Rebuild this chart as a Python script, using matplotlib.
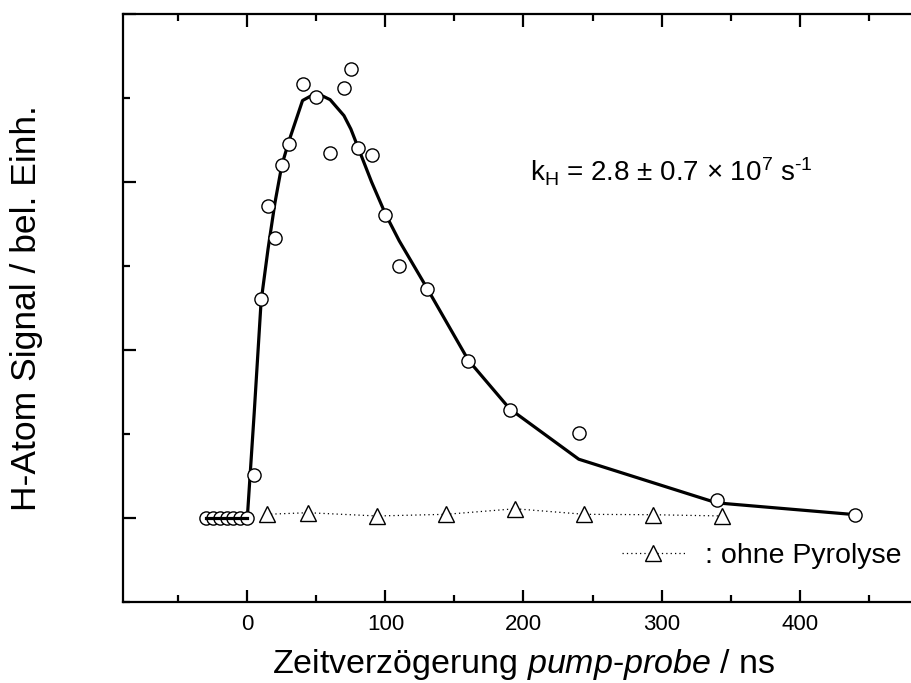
import numpy as np
import matplotlib
matplotlib.use("Agg")
import matplotlib.pyplot as plt
from matplotlib.ticker import MultipleLocator, NullFormatter

plt.rcParams['font.family'] = ['Liberation Sans', 'DejaVu Sans']
plt.rcParams['mathtext.fontset'] = 'custom'
plt.rcParams['mathtext.rm'] = 'Liberation Sans'
plt.rcParams['mathtext.it'] = 'Liberation Sans:italic'

# delay times (ns) and H-atom signal (arb. units)
delay = [-30, -25, -20, -15, -10, -5, 0, 5, 10, 15, 20, 25, 30, 40, 50, 60, 70, 75,
         80, 90, 100, 110, 130, 160, 190, 240, 340, 440]
signal = [0, 0, 0, 0, 0, 0, 0, 0.51, 2.61, 3.71, 3.33, 4.2, 4.45, 5.17, 5.01, 4.35,
          5.12, 5.35, 4.40, 4.32, 3.61, 3.0, 2.73, 1.87, 1.29, 1.01, 0.21, 0.04]
# fit curve, read at the same delays
fit = [0, 0, 0, 0, 0, 0, 0, 1.25, 2.58, 3.2, 3.75, 4.2, 4.48, 4.97, 5.06, 4.98,
       4.79, 4.63, 4.42, 4.0, 3.62, 3.3, 2.74, 1.88, 1.3, 0.70, 0.18, 0.04]

# without pyrolysis
ref_delay = [14, 44, 94, 144, 194, 244, 294, 344]
ref_signal = [0.044, 0.063, 0.024, 0.044, 0.11, 0.044, 0.039, 0.024]

fig = plt.figure(figsize=(9.12, 6.83), dpi=100)
ax = fig.add_axes([123 / 912, 81 / 683, 801 / 912, 588 / 683])

ax.plot(delay, fit, color='black', lw=2.3, zorder=2)
ax.plot(delay, signal, 'o', ms=9.5, mfc='white', mec='black', mew=1.0, zorder=3)
# flat part of the fit is drawn over the baseline points
pre = [i for i, t in enumerate(delay) if t <= 0]
ax.plot([delay[i] for i in pre], [fit[i] for i in pre], color='black', lw=2.3, zorder=4)

ax.plot(ref_delay, ref_signal, linestyle=(0, (1, 2.5)), color='black', lw=0.9,
        marker='^', ms=11, mfc='white', mec='black', mew=1.0, zorder=3,
        label=': ohne Pyrolyse')

ax.set_xlim(-90, 490)
ax.set_ylim(-1, 6)

ax.xaxis.set_major_locator(MultipleLocator(100))
ax.xaxis.set_minor_locator(MultipleLocator(50))
ax.yaxis.set_major_locator(MultipleLocator(2))
ax.yaxis.set_minor_locator(MultipleLocator(1))
ax.yaxis.set_major_formatter(NullFormatter())

ax.tick_params(which='both', direction='in', top=True, right=False, width=1.6)
ax.tick_params(which='major', length=9, labelsize=16, pad=9)
ax.tick_params(which='minor', length=5)
for s in ax.spines.values():
    s.set_linewidth(1.6)

ax.set_xlabel('Zeitverzögerung $\\it{pump}$-$\\it{probe}$ / ns', fontsize=24.5, labelpad=8)
ax.set_ylabel('H-Atom Signal / bel. Einh.', fontsize=25.5)
ax.yaxis.set_label_coords(-0.1, 0.5)

ax.text(205, 4.0, 'k$_\\mathregular{H}$ = 2.8 ± 0.7 × 10$^\\mathregular{7}$ s$^{\\text{-1}}$',
        fontsize=20, va='baseline', ha='left')

ax.legend(loc='center left', bbox_to_anchor=(622 / 912, 1 - 556 / 683),
          bbox_transform=fig.transFigure, frameon=False, fontsize=20.5,
          handlelength=2.2, handletextpad=0.7, numpoints=1,
          borderpad=0, borderaxespad=0)

fig.savefig('out.png', dpi=100)
